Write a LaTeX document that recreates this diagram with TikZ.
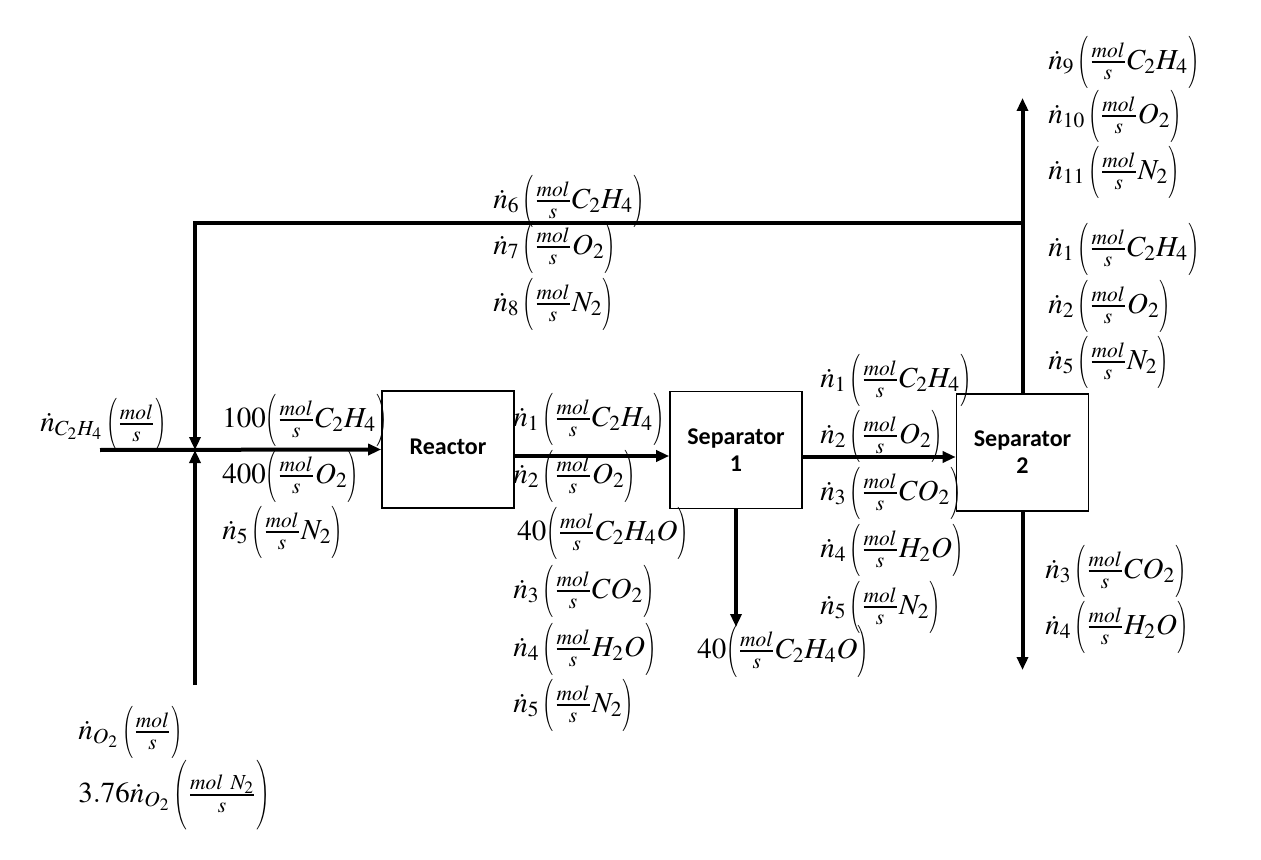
\documentclass[tikz,border=0pt]{standalone}
\usepackage{amsmath}
\usepackage{graphicx}
\usepackage{mathptmx}
\usepackage[no-math]{fontspec}
\setmainfont{Liberation Serif}
\setsansfont{Carlito}
\usetikzlibrary{arrows.meta}
\newcommand{\lpar}{\mathopen{\scalebox{0.65}[1]{$\Bigl($}}}
\newcommand{\rpar}{\mathclose{\scalebox{0.65}[1]{$\Bigr)$}}}
\newcommand{\Lpar}{\mathopen{\scalebox{0.65}[1]{$\biggl($}}}
\newcommand{\Rpar}{\mathclose{\scalebox{0.65}[1]{$\biggr)$}}}
\newcommand{\nfl}[2]{$\dot{n}_{#1}\,\lpar\tfrac{mol}{s}#2\rpar$}
\newcommand{\kfl}[2]{$#1\lpar\tfrac{mol}{s}#2\rpar$}
\begin{document}
\begin{tikzpicture}[x=0.5pt,y=-0.5pt,
  flow/.style={line width=2pt,-{Triangle[length=6.5pt,width=5.5pt]}},
  plain/.style={line width=2pt},
  unit/.style={draw,line width=0.8pt,minimum width=66pt,minimum height=58.5pt,inner sep=0pt,align=center,font=\sffamily\bfseries\fontsize{12}{13.5}\selectfont},
  lab/.style={anchor=west,inner sep=0pt,font=\fontsize{14.5}{17}\selectfont}]
\useasboundingbox (0,0) rectangle (1261,860);
% units
\node[unit] (reactor) at (448,449.5) {\raisebox{3pt}{Reactor}};
\node[unit] (sep1) at (736,450) {Separator\\1};
\node[unit] (sep2) at (1022.5,452.5) {Separator\\2};
% coordinates
\coordinate (feed) at (100,450);
\coordinate (mix) at (195,450);
\coordinate (airin) at (195,685);
\coordinate (rcorner) at (195,223);
\coordinate (split) at (1022.5,223);
\coordinate (purge) at (1022.5,98);
\coordinate (bottoms) at (1022.5,670);
\coordinate (prod) at (736,627);
\coordinate (ry) at (0,456);
\coordinate (sy) at (0,457);
% connectors
\draw[flow] (feed) -- (reactor.west);
\draw[flow] (split) -- (rcorner) -- (mix);
\draw[flow] (airin) -- (mix);
\draw[flow] (reactor.east |- ry) -- (sep1.west |- ry);
\draw[flow] (sep1.east |- sy) -- (sep2.west |- sy);
\draw[flow] (sep2.north) -- (purge);
\draw[flow] (sep2.south) -- (bottoms);
\draw[flow] (sep1.south) -- (prod);
% feed labels
\node[lab] (lfeed) at (40,424) {$\dot{n}_{C_2H_4}\,\lpar\tfrac{mol}{s}\rpar$};
\node[lab] (m1) at (222,420) {\kfl{100}{C_2H_4}};
\node[lab] (m2) at (222,476) {\kfl{400}{O_2}};
\node[lab] (m3) at (222,532) {\nfl{5}{N_2}};
% reactor outlet
\node[lab] (r1) at (513,419) {\nfl{1}{C_2H_4}};
\node[lab] (r2) at (513,476) {\nfl{2}{O_2}};
\node[lab] (r3) at (517,533) {\kfl{40}{C_2H_4O}};
\node[lab] (r4) at (513,591) {\nfl{3}{CO_2}};
\node[lab] (r5) at (513,649) {\nfl{4}{H_2O}};
\node[lab] (r6) at (513,705) {\nfl{5}{N_2}};
% recycle
\node[lab] (c6) at (493,201) {\nfl{6}{C_2H_4}};
\node[lab] (c7) at (493,247) {\nfl{7}{O_2}};
\node[lab] (c8) at (493,304) {\nfl{8}{N_2}};
% separator 1 -> 2
\node[lab] (s1) at (820,380) {\nfl{1}{C_2H_4}};
\node[lab] (s2) at (820,436) {\nfl{2}{O_2}};
\node[lab] (s3) at (820,493) {\nfl{3}{CO_2}};
\node[lab] (s4) at (820,550) {\nfl{4}{H_2O}};
\node[lab] (s5) at (820,607) {\nfl{5}{N_2}};
% product
\node[lab] (pr) at (697,651) {\kfl{40}{C_2H_4O}};
% top right
\node[lab] (t9) at (1048,62) {\nfl{9}{C_2H_4}};
\node[lab] (t10) at (1048,116) {\nfl{10}{O_2}};
\node[lab] (t11) at (1048,172) {\nfl{11}{N_2}};
\node[lab] (t1) at (1048,249) {\nfl{1}{C_2H_4}};
\node[lab] (t2) at (1048,306) {\nfl{2}{O_2}};
\node[lab] (t5) at (1048,362) {\nfl{5}{N_2}};
% bottom right
\node[lab] (b3) at (1045,571) {\nfl{3}{CO_2}};
\node[lab] (b4) at (1045,627) {\nfl{4}{H_2O}};
% air feed
\node[lab] (o1) at (78,732) {$\dot{n}_{O_2}\,\lpar\tfrac{mol}{s}\rpar$};
\node[lab] (o2) at (78,795) {$3.76\dot{n}_{O_2}\,\Lpar\tfrac{mol\ N_2}{s}\Rpar$};
\end{tikzpicture}
\end{document}
